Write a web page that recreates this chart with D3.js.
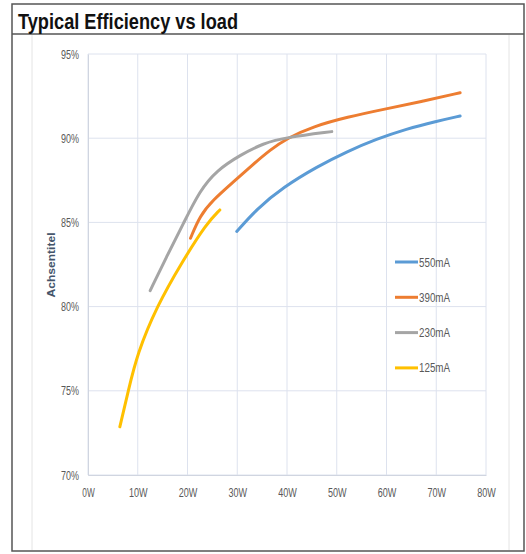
<!DOCTYPE html>
<html>
<head>
<meta charset="utf-8">
<script src="https://cdn.jsdelivr.net/npm/d3@7"></script>
<style>
  body { margin: 0; background: #fff; }
  text { font-family: "Liberation Sans", Arial, sans-serif; }
</style>
</head>
<body>
<div id="chart"></div>
<script>
// data: [load W, efficiency %]
var seriesNames = ["550mA", "390mA", "230mA", "125mA"];
var seriesColors = ["#5B9BD5", "#ED7D31", "#A5A5A5", "#FFC000"];

var load550 = [29.9, 33.9, 39.3, 46.0, 52.0, 58.0, 64.0, 70.0, 74.8];
var eff550  = [84.46, 85.8, 87.1, 88.3, 89.2, 89.95, 90.55, 91.0, 91.32];

var load390 = [20.6, 22.5, 25.0, 29.2, 33.2, 36.6, 40.0, 45.3, 52.0, 60.0, 67.4, 74.8];
var eff390  = [84.06, 85.4, 86.3, 87.4, 88.45, 89.3, 90.0, 90.7, 91.25, 91.75, 92.2, 92.7];

var load230 = [12.5, 15.8, 19.2, 22.5, 25.9, 30.6, 35.2, 39.9, 49.0];
var eff230  = [80.95, 82.97, 84.95, 86.9, 88.1, 89.0, 89.7, 90.05, 90.39];

var load125 = [6.4, 8.1, 9.9, 13.8, 18.8, 23.9, 26.5];
var eff125  = [72.86, 75.0, 77.2, 80.0, 82.6, 84.97, 85.74];

var xTicks = [0, 10, 20, 30, 40, 50, 60, 70, 80];
var yTicks = [70, 75, 80, 85, 90, 95];

var loads = [load550, load390, load230, load125];
var effs = [eff550, eff390, eff230, eff125];

var W = 526, H = 554;
var svg = d3.select("#chart").append("svg")
    .attr("width", W)
    .attr("height", H);

// outer frame and title
svg.append("rect")
    .attr("x", 12).attr("y", 4)
    .attr("width", 512).attr("height", 547)
    .attr("fill", "none")
    .attr("stroke", "#555")
    .attr("stroke-width", 1.5);

svg.append("line")
    .attr("x1", 12).attr("x2", 524)
    .attr("y1", 34).attr("y2", 34)
    .attr("stroke", "#555")
    .attr("stroke-width", 1.5);

svg.append("text")
    .attr("x", 18).attr("y", 29)
    .attr("font-size", 22)
    .attr("font-weight", "bold")
    .attr("fill", "#111")
    .attr("textLength", 220)
    .attr("lengthAdjust", "spacingAndGlyphs")
    .text("Typical Efficiency vs load");

// faint chart-area edges
svg.append("line")
    .attr("x1", 32).attr("x2", 32).attr("y1", 35).attr("y2", 550)
    .attr("stroke", "#e4e4e4");
svg.append("line")
    .attr("x1", 509).attr("x2", 509).attr("y1", 35).attr("y2", 550)
    .attr("stroke", "#e4e4e4");

var x = d3.scaleLinear().domain([0, 80]).range([88, 486]);
var y = d3.scaleLinear().domain([70, 95]).range([475, 54]);

// grid
var grid = svg.append("g").attr("class", "grid");
grid.selectAll("line.v")
    .data(xTicks)
    .enter().append("line")
    .attr("class", "v")
    .attr("x1", function(d) { return x(d); })
    .attr("x2", function(d) { return x(d); })
    .attr("y1", y(70)).attr("y2", y(95))
    .attr("stroke", "#dde2ee")
    .attr("stroke-width", 1);
grid.selectAll("line.h")
    .data(yTicks)
    .enter().append("line")
    .attr("class", "h")
    .attr("x1", x(0)).attr("x2", x(80))
    .attr("y1", function(d) { return y(d); })
    .attr("y2", function(d) { return y(d); })
    .attr("stroke", "#dde2ee")
    .attr("stroke-width", 1);

// axes
var xAxis = svg.append("g")
    .attr("transform", "translate(0," + y(70) + ")")
    .call(d3.axisBottom(x).tickValues(xTicks).tickSize(0).tickPadding(13)
        .tickFormat(function(d) { return d + "W"; }));
var yAxis = svg.append("g")
    .attr("transform", "translate(" + x(0) + ",0)")
    .call(d3.axisLeft(y).tickValues(yTicks).tickSize(0).tickPadding(9)
        .tickFormat(function(d) { return d + "%"; }));

[xAxis, yAxis].forEach(function(a) {
    a.select(".domain").attr("stroke", "#d0d5e0");
    a.selectAll("text")
        .attr("font-family", "'Liberation Sans', Arial, sans-serif")
        .attr("font-size", 12.5)
        .attr("fill", "#595959");
});
xAxis.selectAll(".tick text").each(function() {
    var t = d3.select(this);
    t.attr("textLength", t.text().length * 6.2).attr("lengthAdjust", "spacingAndGlyphs");
});
yAxis.selectAll(".tick text").each(function() {
    var t = d3.select(this);
    t.attr("textLength", t.text().length * 6).attr("lengthAdjust", "spacingAndGlyphs");
});

svg.append("text")
    .attr("transform", "translate(55,265) rotate(-90)")
    .attr("text-anchor", "middle")
    .attr("font-size", 10.5)
    .attr("font-weight", "bold")
    .attr("fill", "#44546A")
    .attr("textLength", 65)
    .attr("lengthAdjust", "spacingAndGlyphs")
    .text("Achsentitel");

// lines
var line = d3.line()
    .x(function(d) { return x(d[0]); })
    .y(function(d) { return y(d[1]); })
    .curve(d3.curveBasis);

seriesNames.forEach(function(name, i) {
    var pts = d3.zip(loads[i], effs[i]);
    svg.append("path")
        .datum(pts)
        .attr("d", line)
        .attr("fill", "none")
        .attr("stroke", seriesColors[i])
        .attr("stroke-width", 3)
        .attr("stroke-linecap", "round");
});

// legend
var legend = svg.append("g").attr("class", "legend");
var items = legend.selectAll("g")
    .data(seriesNames)
    .enter().append("g")
    .attr("transform", function(d, i) { return "translate(395," + (262 + i * 35.3) + ")"; });
items.append("line")
    .attr("x1", 0).attr("x2", 23)
    .attr("stroke", function(d, i) { return seriesColors[i]; })
    .attr("stroke-width", 3);
items.append("text")
    .attr("x", 24).attr("y", 4.5)
    .attr("font-size", 12)
    .attr("fill", "#595959")
    .attr("textLength", 31)
    .attr("lengthAdjust", "spacingAndGlyphs")
    .text(function(d) { return d; });
</script>
</body>
</html>
